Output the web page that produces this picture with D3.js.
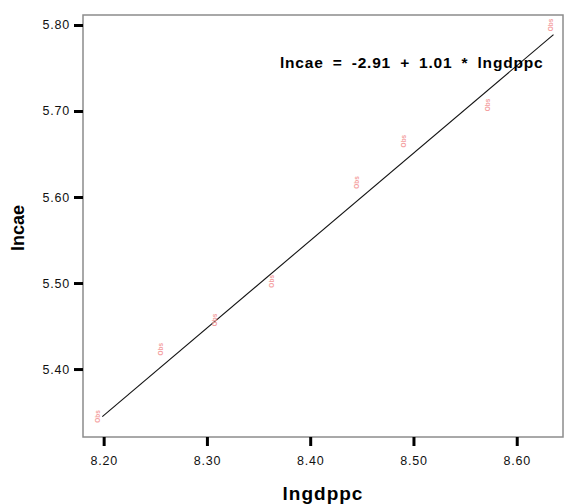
<!DOCTYPE html>
<html><head><meta charset="utf-8">
<script src="https://cdn.jsdelivr.net/npm/d3@7"></script>
<style>body{margin:0;background:#fff}svg{display:block}</style>
</head><body>
<script>
const lngdppc = [8.194, 8.255, 8.308, 8.363, 8.445, 8.491, 8.572, 8.633];
const lncae   = [5.345, 5.423, 5.457, 5.502, 5.617, 5.665, 5.707, 5.800];
// fitted line as drawn in the picture: [intercept, slope] and its x span
const fitCoef = [-2.991, 1.0167];
const fitRange = [8.1987, 8.6356];
const xTicks = [8.20, 8.30, 8.40, 8.50, 8.60];
const yTicks = [5.40, 5.50, 5.60, 5.70, 5.80];
const equation = "lncae = -2.91 + 1.01 * lngdppc";
const xTitle = "lngdppc", yTitle = "lncae";

const W = 564, H = 504;
const svg = d3.select("body").append("svg").attr("width", W).attr("height", H);
const L = 83, R = 563, T = 15, B = 437;
const x = d3.scaleLinear().domain([8.180, 8.6448]).range([L, R]);
const y = d3.scaleLinear().domain([5.321, 5.8116]).range([B, T]);
const font = "Liberation Sans, Arial, Helvetica, sans-serif";

// frame
svg.append("rect").attr("x", L).attr("y", T).attr("width", R - L).attr("height", B - T)
  .attr("fill", "none").attr("stroke", "#8c8c8c").attr("stroke-width", 1.5);

// axes
const xAxis = d3.axisBottom(x).tickValues(xTicks).tickFormat(d3.format(".2f")).tickSize(9).tickPadding(10);
const gx = svg.append("g").attr("transform", `translate(0,${B})`).call(xAxis);
const yAxis = d3.axisLeft(y).tickValues(yTicks).tickFormat(d3.format(".2f")).tickSize(9).tickPadding(4);
const gy = svg.append("g").attr("transform", `translate(${L},0)`).call(yAxis);
[gx, gy].forEach(g => {
  g.select(".domain").remove();
  g.selectAll(".tick line").attr("stroke", "#000").attr("stroke-width", 3);
  g.selectAll(".tick text").attr("font-family", font).attr("font-size", 12.5)
    .attr("fill", "#111").attr("letter-spacing", 0.8);
});

// fit line
const line = d3.line().x(d => x(d)).y(d => y(fitCoef[0] + fitCoef[1] * d));
svg.append("path").attr("d", line(fitRange)).attr("fill", "none")
  .attr("stroke", "#111").attr("stroke-width", 1.1);

// point markers (small rotated glyphs)
svg.append("g").selectAll("text").data(lngdppc).join("text")
  .attr("transform", (d, i) => `translate(${x(d)},${y(lncae[i])}) rotate(-90)`)
  .attr("text-anchor", "middle").attr("dy", "0.35em")
  .attr("font-family", font).attr("font-size", 6.5).attr("font-weight", "bold")
  .attr("fill", "#f4a0a0").text("Obs");

// equation
svg.append("text").attr("x", 280).attr("y", 68).attr("font-family", font)
  .attr("font-size", 15.5).attr("font-weight", "bold").attr("fill", "#000")
  .attr("letter-spacing", 0.8).attr("word-spacing", 4).text(equation);

// axis titles
svg.append("text").attr("x", 323).attr("y", 500).attr("text-anchor", "middle")
  .attr("font-family", font).attr("font-size", 19).attr("font-weight", "bold")
  .attr("letter-spacing", 1).text(xTitle);
svg.append("text").attr("transform", `translate(24,${(T + B) / 2 + 2}) rotate(-90)`)
  .attr("text-anchor", "middle").attr("font-family", font).attr("font-size", 18)
  .attr("font-weight", "bold").text(yTitle);
</script>
</body></html>
